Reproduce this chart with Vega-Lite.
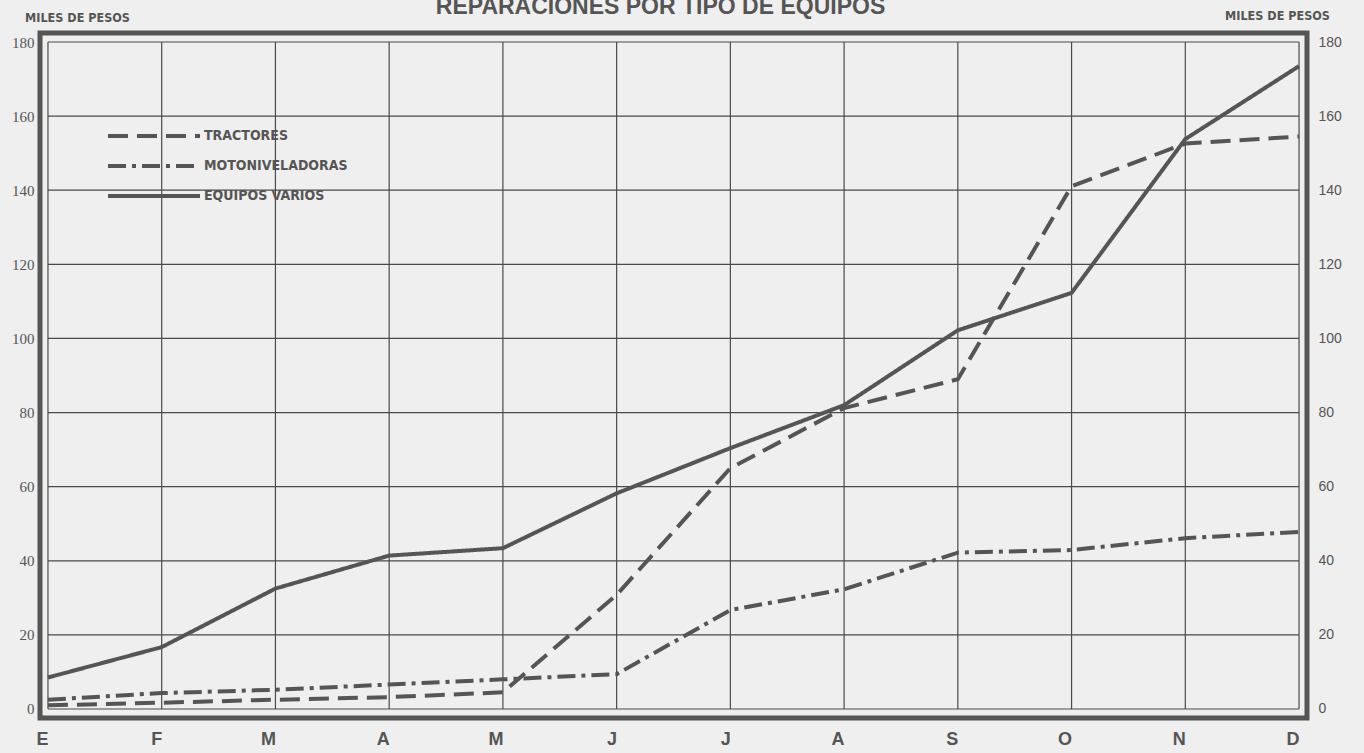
{
  "$schema": "https://vega.github.io/schema/vega-lite/v6.json",
  "autosize": {"type": "none"},
  "padding": {"left": 40, "top": 33, "right": 57, "bottom": 35},
  "width": 1267,
  "height": 685,
  "background": "#efefef",
  "title": {
    "text": "REPARACIONES POR TIPO DE EQUIPOS",
    "fontSize": 23,
    "font": "Liberation Sans",
    "fontWeight": "bold",
    "color": "#555555",
    "anchor": "middle",
    "dx": -13,
    "dy": 16,
    "offset": 6
  },
  "config": {
    "view": {"stroke": "#555555", "strokeWidth": 5},
    "axis": {"labelColor": "#555555", "titleColor": "#555555", "domain": false, "ticks": false, "grid": false}
  },
  "datasets": {
    "series": [
      {"mes": "Ene", "serie": "TRACTORES", "valor": 1.0},
      {"mes": "Feb", "serie": "TRACTORES", "valor": 1.7},
      {"mes": "Mar", "serie": "TRACTORES", "valor": 2.5},
      {"mes": "Abr", "serie": "TRACTORES", "valor": 3.2},
      {"mes": "May", "serie": "TRACTORES", "valor": 4.5},
      {"mes": "Jun", "serie": "TRACTORES", "valor": 30.8},
      {"mes": "Jul", "serie": "TRACTORES", "valor": 65.0},
      {"mes": "Ago", "serie": "TRACTORES", "valor": 81.2},
      {"mes": "Sep", "serie": "TRACTORES", "valor": 89.0},
      {"mes": "Oct", "serie": "TRACTORES", "valor": 141.1},
      {"mes": "Nov", "serie": "TRACTORES", "valor": 152.6},
      {"mes": "Dic", "serie": "TRACTORES", "valor": 154.5},
      {"mes": "Ene", "serie": "MOTONIVELADORAS", "valor": 2.5},
      {"mes": "Feb", "serie": "MOTONIVELADORAS", "valor": 4.3},
      {"mes": "Mar", "serie": "MOTONIVELADORAS", "valor": 5.2},
      {"mes": "Abr", "serie": "MOTONIVELADORAS", "valor": 6.6},
      {"mes": "May", "serie": "MOTONIVELADORAS", "valor": 8.0},
      {"mes": "Jun", "serie": "MOTONIVELADORAS", "valor": 9.4},
      {"mes": "Jul", "serie": "MOTONIVELADORAS", "valor": 26.7},
      {"mes": "Ago", "serie": "MOTONIVELADORAS", "valor": 32.3},
      {"mes": "Sep", "serie": "MOTONIVELADORAS", "valor": 42.2},
      {"mes": "Oct", "serie": "MOTONIVELADORAS", "valor": 42.9},
      {"mes": "Nov", "serie": "MOTONIVELADORAS", "valor": 46.1},
      {"mes": "Dic", "serie": "MOTONIVELADORAS", "valor": 47.8},
      {"mes": "Ene", "serie": "EQUIPOS  VARIOS", "valor": 8.5},
      {"mes": "Feb", "serie": "EQUIPOS  VARIOS", "valor": 16.7},
      {"mes": "Mar", "serie": "EQUIPOS  VARIOS", "valor": 32.5},
      {"mes": "Abr", "serie": "EQUIPOS  VARIOS", "valor": 41.4},
      {"mes": "May", "serie": "EQUIPOS  VARIOS", "valor": 43.4},
      {"mes": "Jun", "serie": "EQUIPOS  VARIOS", "valor": 58.2},
      {"mes": "Jul", "serie": "EQUIPOS  VARIOS", "valor": 70.4},
      {"mes": "Ago", "serie": "EQUIPOS  VARIOS", "valor": 82.0},
      {"mes": "Sep", "serie": "EQUIPOS  VARIOS", "valor": 102.2},
      {"mes": "Oct", "serie": "EQUIPOS  VARIOS", "valor": 112.3},
      {"mes": "Nov", "serie": "EQUIPOS  VARIOS", "valor": 153.8},
      {"mes": "Dic", "serie": "EQUIPOS  VARIOS", "valor": 173.5}
    ],
    "niveles": [
      {"g": 0}, {"g": 20}, {"g": 40}, {"g": 60}, {"g": 80},
      {"g": 100}, {"g": 120}, {"g": 140}, {"g": 160}, {"g": 180}
    ],
    "meses": [
      {"mes": "Ene"}, {"mes": "Feb"}, {"mes": "Mar"}, {"mes": "Abr"}, {"mes": "May"}, {"mes": "Jun"},
      {"mes": "Jul"}, {"mes": "Ago"}, {"mes": "Sep"}, {"mes": "Oct"}, {"mes": "Nov"}, {"mes": "Dic"}
    ]
  },
  "layer": [
    {
      "data": {"name": "niveles"},
      "mark": {"type": "rule", "stroke": "#4a4a4a", "strokeWidth": 1.2},
      "encoding": {
        "y": {"field": "g", "type": "quantitative", "axis": null},
        "x": {"datum": "Ene", "type": "ordinal"},
        "x2": {"datum": "Dic"}
      }
    },
    {
      "data": {"name": "meses"},
      "mark": {"type": "rule", "stroke": "#4a4a4a", "strokeWidth": 1.2},
      "encoding": {
        "x": {"field": "mes", "type": "ordinal"},
        "y": {"datum": 0, "type": "quantitative", "axis": null},
        "y2": {"datum": 180}
      }
    },
    {
      "data": {"name": "series"},
      "mark": {"type": "line", "stroke": "#555555", "strokeWidth": 4},
      "encoding": {
        "x": {
          "field": "mes",
          "type": "ordinal",
          "scale": {"type": "point", "domain": ["Ene","Feb","Mar","Abr","May","Jun","Jul","Ago","Sep","Oct","Nov","Dic"], "padding": 0.07},
          "axis": {
            "orient": "bottom",
            "title": null,
            "labelAngle": 0,
            "labelExpr": "upper(substring(datum.label,0,1))",
            "labelFont": "Liberation Sans",
            "labelFontWeight": "bold",
            "labelFontSize": 18,
            "labelPadding": 21
          }
        },
        "y": {
          "field": "valor",
          "type": "quantitative",
          "scale": {"domain": [-2.43, 182.43], "nice": false, "zero": false},
          "axis": {
            "orient": "left",
            "values": [0,20,40,60,80,100,120,140,160,180],
            "labelFont": "Liberation Serif",
            "labelFontSize": 15,
            "labelPadding": 6,
            "title": "MILES DE PESOS",
            "titleAngle": 0,
            "titleAlign": "center",
            "titleBaseline": "middle",
            "titleX": 37,
            "titleY": -16,
            "titleFont": "Liberation Sans Narrow, DejaVu Sans Condensed, sans-serif",
            "titleFontSize": 12.5,
            "titleFontWeight": "bold"
          }
        },
        "strokeDash": {
          "field": "serie",
          "type": "nominal",
          "scale": {
            "domain": ["TRACTORES", "MOTONIVELADORAS", "EQUIPOS  VARIOS"],
            "range": [[20, 9], [18, 6, 4, 6], [1, 0]]
          },
          "legend": {
            "title": null,
            "orient": "none",
            "legendX": 66,
            "legendY": 88,
            "symbolType": "stroke",
            "symbolSize": 8464,
            "symbolStrokeColor": "#555555",
            "symbolStrokeWidth": 4,
            "clipHeight": 30,
            "labelFont": "Liberation Sans Narrow, DejaVu Sans Condensed, sans-serif",
            "labelFontWeight": "bold",
            "labelFontSize": 14,
            "labelColor": "#555555",
            "labelOffset": 2,
            "rowPadding": 0
          }
        }
      }
    },
    {
      "data": {"name": "niveles"},
      "mark": {"type": "rule", "opacity": 0},
      "encoding": {
        "y": {
          "field": "g",
          "type": "quantitative",
          "axis": {
            "orient": "right",
            "values": [0,20,40,60,80,100,120,140,160,180],
            "labelFont": "Liberation Sans",
            "labelFontSize": 14,
            "labelPadding": 11,
            "title": "MILES DE PESOS",
            "titleAngle": 0,
            "titleAlign": "center",
            "titleBaseline": "middle",
            "titleX": -30,
            "titleY": -18,
            "titleFont": "Liberation Sans Narrow, DejaVu Sans Condensed, sans-serif",
            "titleFontSize": 12.5,
            "titleFontWeight": "bold"
          }
        },
        "x": {"datum": "Ene", "type": "ordinal"}
      }
    }
  ],
  "resolve": {"axis": {"y": "independent"}}
}
